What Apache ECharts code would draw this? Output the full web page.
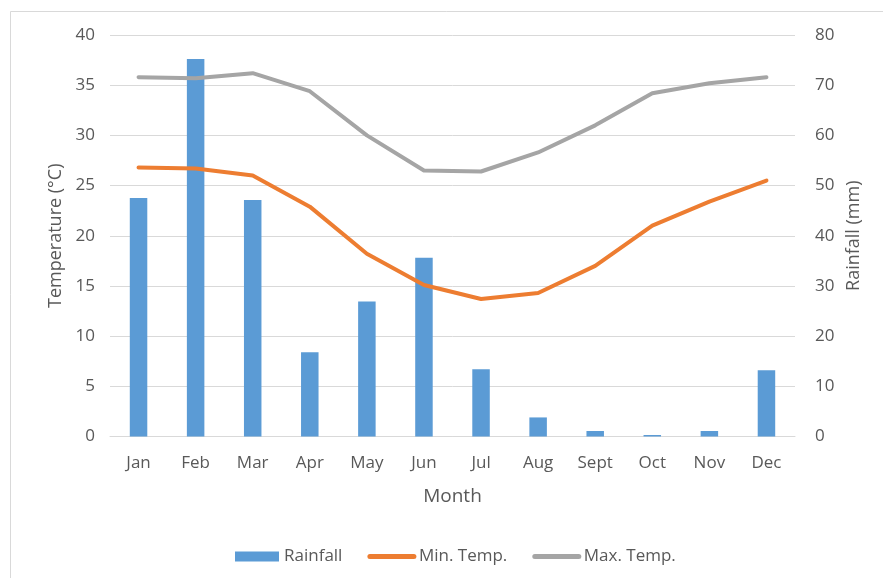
<!DOCTYPE html>
<html>
<head>
<meta charset="utf-8">
<script src="https://cdn.jsdelivr.net/npm/echarts@6/dist/echarts.min.js"></script>
<style>
  html, body { margin: 0; padding: 0; background: #fff; }
  #chart { width: 883px; height: 578px; }
</style>
</head>
<body>
<div id="chart"></div>
<script>
// Monthly climate data
const months = ['Jan', 'Feb', 'Mar', 'Apr', 'May', 'Jun', 'Jul', 'Aug', 'Sept', 'Oct', 'Nov', 'Dec'];
const rainfall = [47.5, 75.2, 47.1, 16.8, 26.9, 35.6, 13.4, 3.8, 1.1, 0.3, 1.1, 13.2];
const minTemp = [26.8, 26.7, 26.0, 22.9, 18.2, 15.1, 13.7, 14.3, 17.0, 21.0, 23.4, 25.5];
const maxTemp = [35.8, 35.7, 36.2, 34.4, 30.0, 26.5, 26.4, 28.3, 31.0, 34.2, 35.2, 35.8];

const textColor = '#595959';
const gridColor = '#d9d9d9';
const font = '"Open Sans", sans-serif';

const chart = echarts.init(document.getElementById('chart'), null, { renderer: 'canvas' });

chart.setOption({
  animation: false,
  backgroundColor: '#ffffff',
  textStyle: { fontFamily: font, color: textColor },
  graphic: [
    { type: 'line', shape: { x1: 10.5, y1: 11.5, x2: 10.5, y2: 578 }, style: { stroke: gridColor, lineWidth: 1 } },
    { type: 'line', shape: { x1: 10.5, y1: 11.5, x2: 883, y2: 11.5 }, style: { stroke: gridColor, lineWidth: 1 } }
  ],
  grid: { left: 110, right: 88, top: 35, bottom: 141.5, containLabel: false },
  legend: {
    top: 543,
    left: 230,
    itemGap: 25,
    itemWidth: 44,
    itemHeight: 10,
    textStyle: { fontFamily: font, fontSize: 17, color: textColor },
    data: [
      { name: 'Rainfall', icon: 'rect' },
      { name: 'Min. Temp.', itemStyle: { opacity: 0 }, lineStyle: { width: 5, cap: 'round' } },
      { name: 'Max. Temp.', itemStyle: { opacity: 0 }, lineStyle: { width: 5, cap: 'round' } }
    ]
  },
  xAxis: {
    type: 'category',
    data: months,
    name: 'Month',
    nameLocation: 'middle',
    nameGap: 51,
    nameTextStyle: { fontFamily: font, fontSize: 19, color: textColor },
    axisLine: { lineStyle: { color: gridColor, width: 1 } },
    axisTick: { show: false },
    axisLabel: { margin: 18, fontFamily: font, fontSize: 17, color: textColor }
  },
  yAxis: [
    {
      type: 'value',
      min: 0, max: 40, interval: 5,
      name: 'Temperature (°C)',
      nameLocation: 'middle',
      nameGap: 45,
      nameTextStyle: { fontFamily: font, fontSize: 18, color: textColor },
      axisLine: { show: false },
      axisTick: { show: false },
      axisLabel: { margin: 15, fontFamily: font, fontSize: 17, color: textColor },
      splitLine: { lineStyle: { color: gridColor, width: 1 } }
    },
    {
      type: 'value',
      min: 0, max: 80, interval: 10,
      name: 'Rainfall (mm)',
      nameLocation: 'middle',
      nameGap: 50,
      nameTextStyle: { fontFamily: font, fontSize: 18, color: textColor },
      axisLine: { show: false },
      axisTick: { show: false },
      axisLabel: { margin: 20, fontFamily: font, fontSize: 17, color: textColor },
      splitLine: { show: false }
    }
  ],
  series: [
    {
      name: 'Rainfall',
      type: 'bar',
      yAxisIndex: 1,
      data: rainfall,
      barWidth: 17.5,
      itemStyle: { color: '#5b9bd5' }
    },
    {
      name: 'Min. Temp.',
      type: 'line',
      yAxisIndex: 0,
      data: minTemp,
      symbol: 'none',
      lineStyle: { color: '#ed7d31', width: 4, cap: 'round', join: 'round' },
      itemStyle: { color: '#ed7d31' }
    },
    {
      name: 'Max. Temp.',
      type: 'line',
      yAxisIndex: 0,
      data: maxTemp,
      symbol: 'none',
      lineStyle: { color: '#a5a5a5', width: 4, cap: 'round', join: 'round' },
      itemStyle: { color: '#a5a5a5' }
    }
  ]
});
</script>
</body>
</html>
